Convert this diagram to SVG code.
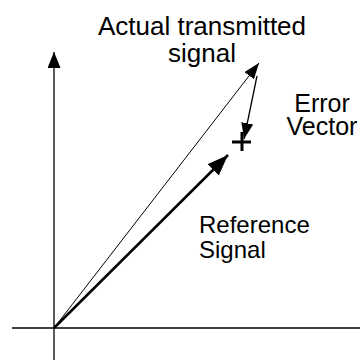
<svg xmlns="http://www.w3.org/2000/svg" width="360" height="360" viewBox="0 0 360 360">
<style>
.t{font-family:"Liberation Sans",Arial,sans-serif;font-size:25px;fill:#000}
.big{font-size:26px}
.ln{stroke:#000;fill:none}
</style>
<defs>
<marker id="ah" markerUnits="userSpaceOnUse" markerWidth="20" markerHeight="16" refX="16" refY="6.5" orient="auto">
<path d="M0,0 L16,6.5 L0,13 Z" fill="#000"/>
</marker>
<marker id="ahs" markerUnits="userSpaceOnUse" markerWidth="20" markerHeight="14" refX="16" refY="6" orient="auto">
<path d="M0,0 L16,6 L0,12 Z" fill="#000"/>
</marker>
<marker id="ahb" markerUnits="userSpaceOnUse" markerWidth="24" markerHeight="18" refX="21" refY="8" orient="auto">
<path d="M0,0 L21,8 L0,16 Z" fill="#000"/>
</marker>
</defs>
<g id="axes">
<line class="ln" x1="12" y1="328" x2="360" y2="328" stroke-width="1.3"/>
<line class="ln" x1="54" y1="360" x2="54" y2="52" stroke-width="1.3" marker-end="url(#ah)"/>
</g>
<g id="connectors">
<line id="actual" class="ln" x1="54" y1="328" x2="259" y2="63" stroke-width="1" marker-end="url(#ahs)"/>
<line id="error" class="ln" x1="257" y1="76" x2="244" y2="139" stroke-width="1.3" marker-end="url(#ahs)"/>
<line id="reference" class="ln" x1="54" y1="328" x2="228" y2="155" stroke-width="2.5" marker-end="url(#ahb)"/>
</g>
<g id="plus">
<line class="ln" x1="232" y1="142" x2="251" y2="142" stroke-width="3"/>
<line class="ln" x1="242" y1="132" x2="242" y2="151" stroke-width="3"/>
</g>
<g id="label-actual">
<text class="t big" x="202" y="35" text-anchor="middle">Actual transmitted</text>
<text class="t big" x="202" y="62" text-anchor="middle">signal</text>
</g>
<g id="label-error">
<text class="t" x="322" y="112" text-anchor="middle">Error</text>
<text class="t" x="322" y="135" text-anchor="middle">Vector</text>
</g>
<g id="label-reference">
<text class="t" x="199" y="233" style="font-size:24px">Reference</text>
<text class="t" x="199" y="258" style="font-size:24px">Signal</text>
</g>
</svg>
